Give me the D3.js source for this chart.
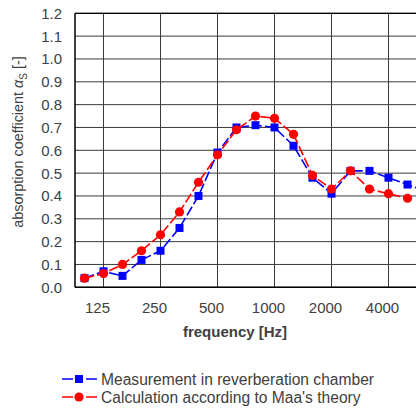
<!DOCTYPE html>
<html>
<head>
<meta charset="utf-8">
<script src="https://cdn.jsdelivr.net/npm/d3@7"></script>
<style>
  body { margin: 0; background: #fff; }
  svg { display: block; font-family: "Liberation Sans", Arial, sans-serif; }
</style>
</head>
<body>
<script>
var w = 416, h = 409;

// 1/3 octave band centre frequencies
var bands = ["100","125","160","200","250","315","400","500","630","800","1000","1250","1600","2000","2500","3150","4000","5000","6300"];
var tickBands = ["125","250","500","1000","2000","4000"];
var yTicks = [0,0.1,0.2,0.3,0.4,0.5,0.6,0.7,0.8,0.9,1.0,1.1,1.2];

var measured = [0.04,0.07,0.05,0.12,0.16,0.26,0.40,0.59,0.70,0.71,0.70,0.62,0.48,0.41,0.51,0.51,0.48,0.45,0.42];
var maa      = [0.04,0.06,0.10,0.16,0.23,0.33,0.46,0.58,0.69,0.75,0.74,0.67,0.49,0.43,0.51,0.43,0.41,0.39];

var pLeft = 75, pTop = 13.3, pBottom = 287.3, pRight = 436;

var svg = d3.select("body").append("svg").attr("width", w).attr("height", h);

var x = d3.scalePoint().domain(bands).range([pLeft, pRight]).padding(0.5);
var y = d3.scaleLinear().domain([0, 1.2]).range([pBottom, pTop]);

var grid = svg.append("g");
grid.selectAll("line.h").data(yTicks).enter().append("line")
  .attr("x1", pLeft).attr("x2", pRight)
  .attr("y1", function(d){ return y(d); }).attr("y2", function(d){ return y(d); })
  .attr("stroke", "#3a3a3a").attr("stroke-width", 1);
grid.selectAll("line.v").data(tickBands).enter().append("line")
  .attr("x1", function(d){ return x(d); }).attr("x2", function(d){ return x(d); })
  .attr("y1", pTop).attr("y2", pBottom)
  .attr("stroke", "#3a3a3a").attr("stroke-width", 1);

// frame
svg.append("line").attr("x1", pLeft).attr("x2", pLeft).attr("y1", pTop).attr("y2", pBottom)
  .attr("stroke", "#000").attr("stroke-width", 1.5);
svg.append("line").attr("x1", pLeft).attr("x2", pRight).attr("y1", pBottom).attr("y2", pBottom)
  .attr("stroke", "#000").attr("stroke-width", 1.5);
svg.append("line").attr("x1", pLeft).attr("x2", pRight).attr("y1", pTop).attr("y2", pTop)
  .attr("stroke", "#000").attr("stroke-width", 1.2);

// y tick labels
svg.append("g").selectAll("text").data(yTicks).enter().append("text")
  .attr("x", 62).attr("y", function(d){ return y(d); }).attr("dy", "0.36em")
  .attr("text-anchor", "end").attr("font-size", "15px").attr("fill", "#404040")
  .text(function(d){ return d3.format(".1f")(d); });

// x tick labels
svg.append("g").selectAll("text").data(tickBands).enter().append("text")
  .attr("x", function(d){ return x(d) - 6; }).attr("y", 313)
  .attr("text-anchor", "middle").attr("font-size", "15px").attr("fill", "#404040")
  .text(function(d){ return d; });

svg.append("text").attr("x", 235).attr("y", 337).attr("text-anchor", "middle")
  .attr("font-size", "15px").attr("font-weight", "bold").attr("fill", "#404040")
  .text("frequency [Hz]");

var yt = svg.append("text").attr("transform", "translate(23,142) rotate(-90)")
  .attr("text-anchor", "middle").attr("font-size", "14.4px").attr("fill", "#404040");
yt.append("tspan").text("absorption coefficient ");
yt.append("tspan").attr("font-style", "italic").text("α");
yt.append("tspan").attr("font-size", "10px").attr("dy", 4).text("S");
yt.append("tspan").attr("dy", -4).text(" [-]");

var line = d3.line().x(function(d, i){ return x(bands[i]); }).y(function(d){ return y(d); });

var plot = svg.append("g");
function series(vals, color, shape) {
  plot.append("path").datum(vals).attr("d", line)
    .attr("fill", "none").attr("stroke", color).attr("stroke-width", 1.6)
    .attr("stroke-dasharray", "10,3");
  if (shape === "square") {
    plot.selectAll(null).data(vals).enter().append("rect")
      .attr("x", function(d, i){ return x(bands[i]) - 4; })
      .attr("y", function(d){ return y(d) - 4; })
      .attr("width", 8).attr("height", 8).attr("fill", color);
  } else {
    plot.selectAll(null).data(vals).enter().append("circle")
      .attr("cx", function(d, i){ return x(bands[i]); })
      .attr("cy", function(d){ return y(d); })
      .attr("r", 4.6).attr("fill", color);
  }
}
series(measured, "#0000ff", "square");
series(maa, "#ff0000", "circle");

// legend
var legend = [
  {name: "Measurement in reverberation chamber", color: "#0000ff", shape: "square"},
  {name: "Calculation according to Maa's theory", color: "#ff0000", shape: "circle"}
];
var lg = svg.append("g");
legend.forEach(function(s, i){
  var ly = 379 + i * 18;
  lg.append("line").attr("x1", 62).attr("x2", 97).attr("y1", ly).attr("y2", ly)
    .attr("stroke", s.color).attr("stroke-width", 1.6).attr("stroke-dasharray", "11,13");
  if (s.shape === "square") {
    lg.append("rect").attr("x", 75).attr("y", ly - 4).attr("width", 8).attr("height", 8).attr("fill", s.color);
  } else {
    lg.append("circle").attr("cx", 79).attr("cy", ly).attr("r", 4.6).attr("fill", s.color);
  }
  lg.append("text").attr("x", 101).attr("y", ly).attr("dy", "0.36em")
    .attr("font-size", "15.6px").attr("fill", "#404040").text(s.name);
});
</script>
</body>
</html>
